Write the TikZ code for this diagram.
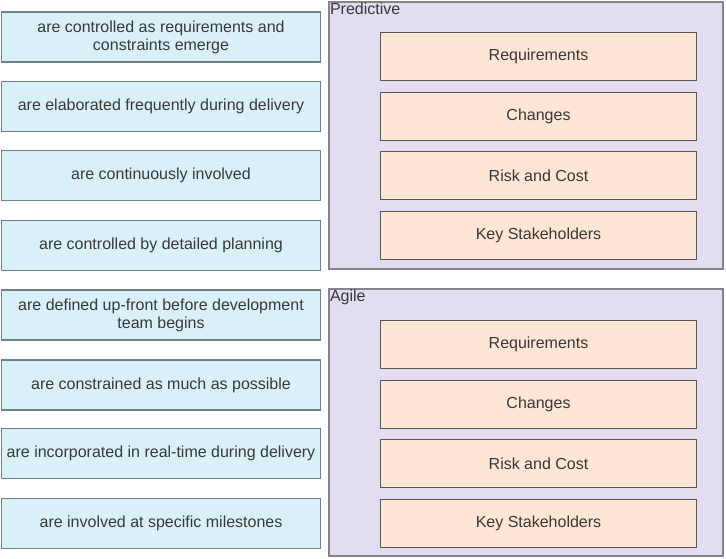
\documentclass[tikz,border=0pt]{standalone}
\usepackage{fontspec}
\setmainfont{Liberation Sans}
\definecolor{cardfill}{HTML}{DAF0F8}
\definecolor{carddraw}{HTML}{6F8188}
\definecolor{groupfill}{HTML}{E2DDF0}
\definecolor{groupdraw}{HTML}{85838C}
\definecolor{itemfill}{HTML}{FDE6D6}
\definecolor{itemdraw}{HTML}{5A5656}
\definecolor{txt}{HTML}{3A3838}
\begin{document}
\begin{tikzpicture}[x=1pt, y=-1pt, line width=1.3pt, text=txt, font=\fontsize{16}{18}\selectfont,
card node/.style={rectangle,draw=carddraw,fill=cardfill,minimum width=319pt,minimum height=50pt,align=center,inner sep=0pt},
group node/.style={rectangle,draw=groupdraw,fill=groupfill,minimum width=394pt,minimum height=267pt,inner sep=0pt},
item node/.style={rectangle,draw=itemdraw,fill=itemfill,minimum width=316pt,minimum height=48pt,inner sep=0pt},
title node/.style={anchor=north west,inner sep=1pt,font=\fontsize{16}{18}\selectfont}]
\useasboundingbox (0,0) rectangle (726,558);
% answer cards
\node[card node] (c1) at (161,37) {are controlled as requirements and\\constraints emerge};
\node[card node] (c2) at (161,106.5) {are elaborated frequently during delivery};
\node[card node] (c3) at (161,175.5) {are continuously involved};
\node[card node] (c4) at (161,245.5) {are controlled by detailed planning};
\node[card node] (c5) at (161,315) {are defined up-front before development\\team begins};
\node[card node] (c6) at (161,385) {are constrained as much as possible};
\node[card node] (c7) at (161,453.5) {are incorporated in real-time during delivery};
\node[card node] (c8) at (161,523.5) {are involved at specific milestones};
% predictive
\node[group node] (pred) at (526,135.5) {};
\node[title node] (predt) at (pred.north west) {Predictive};
\node[item node] (p1) at (538.5,56.5) {Requirements};
\node[item node] (p2) at (538.5,116.5) {Changes};
\node[item node] (p3) at (538.5,175.5) {Risk and Cost};
\node[item node] (p4) at (538.5,235.5) {Key Stakeholders};
% agile
\node[group node] (agile) at (526,422.5) {};
\node[title node] (agilet) at (agile.north west) {Agile};
\node[item node] (a1) at (538.5,344.5) {Requirements};
\node[item node] (a2) at (538.5,404.5) {Changes};
\node[item node] (a3) at (538.5,463.5) {Risk and Cost};
\node[item node] (a4) at (538.5,523.5) {Key Stakeholders};
\end{tikzpicture}
\end{document}
